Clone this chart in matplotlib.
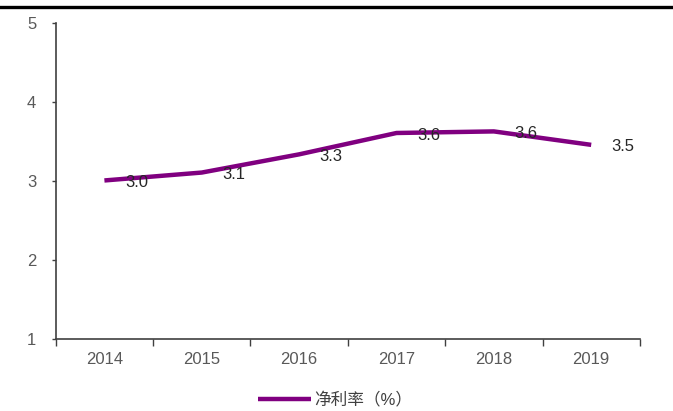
import matplotlib.pyplot as plt
from matplotlib.lines import Line2D

plt.rcParams['font.family'] = ['Liberation Sans', 'Noto Sans CJK SC', 'DejaVu Sans']

# 净利率 by year
years = ["2014", "2015", "2016", "2017", "2018", "2019"]
net_margin = [3.01, 3.11, 3.34, 3.61, 3.63, 3.46]
series_name = "净利率（%）"
y_ticks = [1, 2, 3, 4, 5]

fig = plt.figure(figsize=(6.73, 4.11), dpi=100)
ax = fig.add_axes([0.0828, 0.174, 0.868, 0.770])

x = list(range(len(years)))
line, = ax.plot(x, net_margin, color="#800080", linewidth=3.2,
                solid_capstyle="butt", solid_joinstyle="round")

for xi, v in zip(x, net_margin):
    ax.annotate(f"{v:.1f}", (xi, v), xytext=(23, -1.5), textcoords="offset points",
                ha="center", va="center", fontsize=12, color="#262626")

ax.set_xlim(-0.5, len(years) - 0.5)
ax.set_ylim(1, 5)
ax.set_yticks(y_ticks)
ax.tick_params(axis="y", direction="out", length=3, width=1, colors="#404040",
               labelcolor="#595959", labelsize=12, pad=11)

# category labels between boundary ticks
ax.set_xticks([i - 0.5 for i in range(len(years) + 1)])
ax.set_xticklabels([])
ax.set_xticks(x, minor=True)
ax.set_xticklabels(years, minor=True)
ax.tick_params(axis="x", which="major", direction="out", length=5, width=1, colors="#404040")
ax.tick_params(axis="x", which="minor", length=0, labelcolor="#595959", labelsize=12, pad=9)

for side in ("top", "right"):
    ax.spines[side].set_visible(False)
for side in ("left", "bottom"):
    ax.spines[side].set_color("#404040")
    ax.spines[side].set_linewidth(1.2)

# heavy rule across the top
fig.add_artist(Line2D([0, 1], [0.983, 0.983], color="black", linewidth=2.4,
                      transform=fig.transFigure))

fig.legend([line], [series_name], loc="center", bbox_to_anchor=(0.498, 0.027),
           frameon=False, fontsize=12, handlelength=3.2, handletextpad=0.2,
           labelcolor="#404040")

fig.savefig("out.png", dpi=100)
